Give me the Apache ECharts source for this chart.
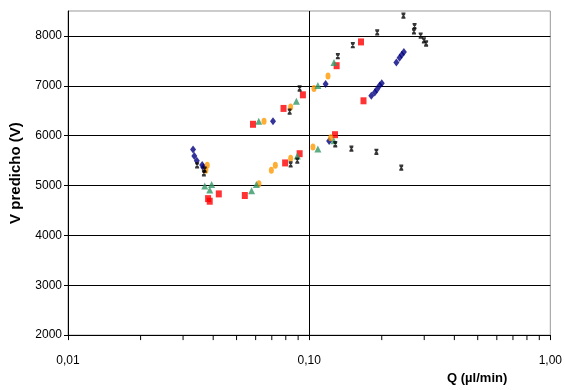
<!DOCTYPE html>
<html>
<head>
<meta charset="utf-8">
<script src="https://cdn.jsdelivr.net/npm/echarts@6/dist/echarts.min.js"></script>
<style>
  html, body { margin: 0; padding: 0; background: #fff; }
  #chart { width: 565px; height: 390px; }
</style>
</head>
<body>
<div id="chart"></div>
<script>
const blueQ = [0.0330, 0.0334, 0.0342, 0.0360, 0.0364, 0.0708, 0.117, 0.121, 0.181, 0.187, 0.191, 0.196, 0.200, 0.230, 0.237, 0.242, 0.247]
const blueV = [5720, 5594, 5499, 5409, 5362, 6291, 7034, 5891, 6800, 6863, 6927, 7004, 7053, 7467, 7562, 7625, 7676]

const redQ = [0.0585, 0.0783, 0.0942, 0.130, 0.164, 0.168, 0.128, 0.0913, 0.0795, 0.0381, 0.0387, 0.0422, 0.0541]
const redV = [6228, 6546, 6819, 7403, 7880, 6699, 6019, 5638, 5453, 4737, 4685, 4832, 4800]

const orangeQ = [0.0650, 0.0838, 0.1047, 0.1197, 0.1228, 0.1037, 0.0838, 0.0724, 0.0697, 0.0378, 0.0373, 0.0619]
const orangeV = [6291, 6577, 6946, 7194, 5956, 5771, 5548, 5404, 5308, 5404, 5308, 5034]

const greenQ = [0.0618, 0.0885, 0.1087, 0.1268, 0.1265, 0.1087, 0.0893, 0.0369, 0.0394, 0.0387, 0.0577, 0.0604]
const greenV = [6291, 6691, 7004, 7467, 5899, 5733, 5594, 4990, 5022, 4908, 4895, 5022]

const blackQ = [0.0343, 0.0366, 0.0369, 0.0830, 0.0913, 0.1315, 0.1517, 0.1915, 0.0893, 0.0838, 0.1283, 0.1497, 0.190, 0.246, 0.2736, 0.272, 0.290, 0.299, 0.3055, 0.241]
const blackV = [5404, 5244, 5320, 6482, 6946, 7594, 7815, 8070, 5499, 5423, 5828, 5739, 5676, 8406, 8196, 8090, 8006, 7910, 7848, 5358]

// minor ticks of the log axis
const minorTicks = [0.02, 0.03, 0.04, 0.05, 0.06, 0.07, 0.08, 0.09, 0.2, 0.3, 0.4, 0.5, 0.6, 0.7, 0.8, 0.9]

const font = "'Liberation Sans', Arial, sans-serif"
const pair = (xs, ys) => xs.map((x, i) => [x, ys[i]])

const chart = echarts.init(document.getElementById('chart'))
chart.setOption({
  backgroundColor: '#fff',
  animation: false,
  grid: {
    left: 68,
    right: 14,
    top: 11,
    bottom: 38,
    show: true,
    borderColor: '#999',
    borderWidth: 1,
  },
  xAxis: {
    type: 'log',
    logBase: 10,
    min: 0.01,
    max: 1,
    name: 'Q (µl/min)',
    nameLocation: 'middle',
    nameGap: 24,
    nameTextStyle: {
      color: '#000',
      fontWeight: 'bold',
      fontSize: 13,
      fontFamily: font,
      padding: [0, 0, 0, 336],
    },
    axisLine: { lineStyle: { color: '#000', width: 1 } },
    axisTick: { show: true, length: 5, lineStyle: { color: '#000' } },
    axisLabel: {
      margin: 20,
      color: '#000',
      fontSize: 12,
      fontFamily: font,
      formatter: (v) => v.toFixed(2).replace('.', ','),
    },
    splitLine: { show: true, showMaxLine: false, lineStyle: { color: '#000', width: 1 } },
  },
  yAxis: {
    type: 'value',
    min: 2000,
    max: 8500,
    interval: 1000,
    name: 'V predicho (V)',
    nameLocation: 'middle',
    nameRotate: 90,
    nameGap: 45,
    nameTextStyle: {
      color: '#000',
      fontWeight: 'bold',
      fontSize: 15,
      fontFamily: font,
    },
    axisLine: { show: true, lineStyle: { color: '#000', width: 1 } },
    axisTick: { show: true, length: 4, lineStyle: { color: '#000' } },
    axisLabel: {
      margin: 6,
      color: '#000',
      fontSize: 12,
      fontFamily: font,
      showMaxLabel: false,
      formatter: (v) => String(v),
    },
    splitLine: { show: true, showMaxLine: false, lineStyle: { color: '#000', width: 1 } },
  },
  series: [
    {
      type: 'custom',
      silent: true,
      clip: false,
      data: minorTicks.map((v) => [v, 2000]),
      renderItem: (params, api) => {
        const p = api.coord([api.value(0), api.value(1)])
        return {
          type: 'line',
          shape: { x1: p[0], y1: p[1], x2: p[0], y2: p[1] + 5 },
          style: { stroke: '#000', lineWidth: 1 },
        }
      },
    },
    {
      name: 'blue',
      type: 'scatter',
      symbol: 'diamond',
      symbolSize: [6, 8],
      itemStyle: { color: '#000080' },
      data: pair(blueQ, blueV),
    },
    {
      name: 'red',
      type: 'scatter',
      symbol: 'rect',
      symbolSize: [6, 7],
      itemStyle: { color: '#ff0000' },
      data: pair(redQ, redV),
    },
    {
      name: 'orange',
      type: 'scatter',
      symbol: 'circle',
      symbolSize: [5, 7],
      itemStyle: { color: '#ff9900' },
      data: pair(orangeQ, orangeV),
    },
    {
      name: 'green',
      type: 'scatter',
      symbol: 'triangle',
      symbolSize: [7, 7],
      itemStyle: { color: '#339966' },
      data: pair(greenQ, greenV),
    },
    {
      name: 'black',
      type: 'scatter',
      symbol: 'path://M0,0L10,0M5,0L5,10M0,10L10,10M1,1L9,9M9,1L1,9',
      symbolSize: [4, 5],
      itemStyle: { color: 'none', borderColor: '#000', borderWidth: 1.2 },
      data: pair(blackQ, blackV),
    },
  ],
})
</script>
</body>
</html>
